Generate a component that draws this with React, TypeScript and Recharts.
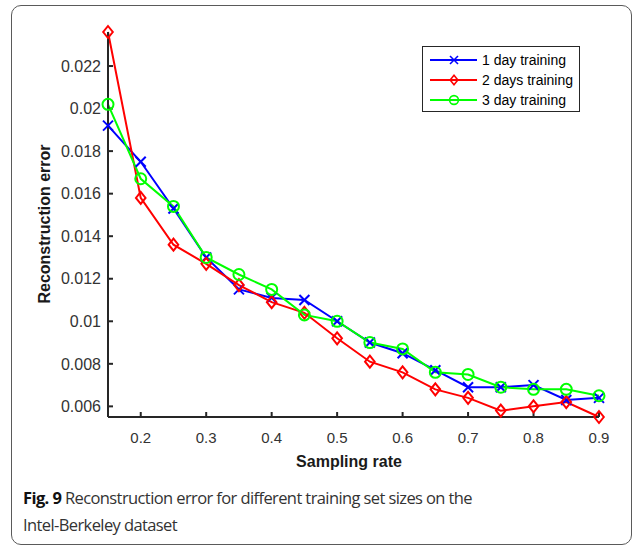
import React from "react"
import { LineChart, Line, XAxis, YAxis, Legend, Label } from "recharts"

// sampling rates on the x axis
const samplingRates = [0.15, 0.2, 0.25, 0.3, 0.35, 0.4, 0.45, 0.5, 0.55, 0.6, 0.65, 0.7, 0.75, 0.8, 0.85, 0.9]

// reconstruction error per training set size
const oneDay = [0.0192, 0.0175, 0.0153, 0.013, 0.0115, 0.0111, 0.011, 0.01, 0.009, 0.0085, 0.0077, 0.0069, 0.0069, 0.007, 0.0063, 0.0064]
const twoDays = [0.0236, 0.0158, 0.0136, 0.0127, 0.0117, 0.0109, 0.0104, 0.0092, 0.0081, 0.0076, 0.0068, 0.0064, 0.0058, 0.006, 0.0062, 0.0055]
const threeDays = [0.0202, 0.0167, 0.0154, 0.013, 0.0122, 0.0115, 0.0103, 0.01, 0.009, 0.0087, 0.0076, 0.0075, 0.0069, 0.0068, 0.0068, 0.0065]

const xTicks = [0.2, 0.3, 0.4, 0.5, 0.6, 0.7, 0.8, 0.9]
const yTicks = [0.006, 0.008, 0.01, 0.012, 0.014, 0.016, 0.018, 0.02, 0.022]

const seriesNames = ["1 day training", "2 days training", "3 day training"]

const data = samplingRates.map((rate, i) => ({
  rate,
  one: oneDay[i],
  two: twoDays[i],
  three: threeDays[i],
}))

const BLUE = "#0000ff"
const RED = "#ff0000"
const GREEN = "#00ff00"
const AXIS = "#262626"
const FONT = "'Liberation Sans', Arial, Helvetica, sans-serif"

type MarkerKind = "cross" | "diamond" | "circle"

function Marker({ kind, cx, cy, color }: { kind: MarkerKind; cx: number; cy: number; color: string }) {
  if (kind === "cross") {
    const s = 5
    return (
      <g stroke={color} strokeWidth={2} fill="none">
        <line x1={cx - s} y1={cy - s} x2={cx + s} y2={cy + s} />
        <line x1={cx - s} y1={cy + s} x2={cx + s} y2={cy - s} />
      </g>
    )
  }
  if (kind === "diamond") {
    const s = 6
    return (
      <path
        d={`M${cx},${cy - s}L${cx + s * 0.8},${cy}L${cx},${cy + s}L${cx - s * 0.8},${cy}Z`}
        stroke={color}
        strokeWidth={2}
        fill="none"
      />
    )
  }
  return <circle cx={cx} cy={cy} r={5.5} stroke={color} strokeWidth={2} fill="none" />
}

const dotFor = (kind: MarkerKind, color: string) => (props: any) => (
  <g key={`${kind}-${props.index}`}>
    <Marker kind={kind} cx={props.cx} cy={props.cy} color={color} />
  </g>
)

const legendRows: { kind: MarkerKind; color: string }[] = [
  { kind: "cross", color: BLUE },
  { kind: "diamond", color: RED },
  { kind: "circle", color: GREEN },
]

function LegendBox() {
  return (
    <svg width={158} height={66} style={{ display: "block", overflow: "visible" }}>
      <rect x={0.5} y={0.5} width={157} height={65} fill="#fff" stroke={AXIS} strokeWidth={1} />
      {legendRows.map((row, i) => {
        const y = 14 + i * 20
        return (
          <g key={i}>
            <line x1={8} y1={y} x2={55} y2={y} stroke={row.color} strokeWidth={2} />
            <g transform={`translate(32, ${y}) scale(0.8) translate(-32, ${-y})`}>
              <Marker kind={row.kind} cx={32} cy={y} color={row.color} />
            </g>
            <text x={60} y={y + 5} fontFamily={FONT} fontSize={14} fill="#000">
              {seriesNames[i]}
            </text>
          </g>
        )
      })}
    </svg>
  )
}

const fmt = (v: number) => String(Number(v.toFixed(3)))

export default function App() {
  return (
    <div style={{ position: "absolute", left: 0, top: 0, width: 636, height: 549, background: "#fff" }}>
      <div
        style={{
          position: "absolute",
          left: 11,
          top: 5,
          width: 621,
          height: 540,
          border: "1.3px solid #5a5a5a",
          borderRadius: 10,
          boxSizing: "border-box",
        }}
      />
      <div style={{ position: "absolute", left: 0, top: 0 }}>
        <LineChart
          width={636}
          height={549}
          data={data}
          margin={{ top: 32, right: 37, bottom: 112, left: 20 }}
        >
          <XAxis
            dataKey="rate"
            type="number"
            domain={[0.15, 0.9]}
            ticks={xTicks}
            tickFormatter={fmt}
            height={20}
            tickSize={-5}
            tickMargin={20}
            axisLine={{ stroke: AXIS, strokeWidth: 2 }}
            tickLine={{ stroke: AXIS, strokeWidth: 2 }}
            tick={{ fill: "#333", fontSize: 15, fontFamily: FONT }}
          >
            <Label
              content={() => (
                <text x={349} y={467} textAnchor="middle" fontFamily={FONT} fontSize={16} fontWeight="bold" fill="#1a1a1a">
                  Sampling rate
                </text>
              )}
            />
          </XAxis>
          <XAxis
            xAxisId="top"
            dataKey="rate"
            type="number"
            orientation="top"
            domain={[0.15, 0.9]}
            ticks={xTicks}
            height={0}
            tickSize={-5}
            tick={false}
            axisLine={{ stroke: AXIS, strokeWidth: 2 }}
            tickLine={{ stroke: AXIS, strokeWidth: 2 }}
          />
          <YAxis
            type="number"
            domain={[0.0055, 0.0236]}
            ticks={yTicks}
            tickFormatter={fmt}
            width={88}
            tickSize={-5}
            tickMargin={12}
            axisLine={{ stroke: AXIS, strokeWidth: 2 }}
            tickLine={{ stroke: AXIS, strokeWidth: 2 }}
            tick={{ fill: "#333", fontSize: 16, fontFamily: FONT }}
          >
            <Label
              content={() => (
                <text
                  x={50}
                  y={224}
                  transform="rotate(-90 50 224)"
                  textAnchor="middle"
                  fontFamily={FONT}
                  fontSize={16}
                  fontWeight="bold"
                  fill="#1a1a1a"
                >
                  Reconstruction error
                </text>
              )}
            />
          </YAxis>
          <YAxis
            yAxisId="right"
            type="number"
            orientation="right"
            domain={[0.0055, 0.0236]}
            ticks={yTicks}
            width={0}
            tickSize={-5}
            tick={false}
            axisLine={{ stroke: AXIS, strokeWidth: 2 }}
            tickLine={{ stroke: AXIS, strokeWidth: 2 }}
          />
          <Line dataKey="one" name={seriesNames[0]} stroke={BLUE} strokeWidth={2} dot={dotFor("cross", BLUE)} isAnimationActive={false} />
          <Line dataKey="two" name={seriesNames[1]} stroke={RED} strokeWidth={2} dot={dotFor("diamond", RED)} isAnimationActive={false} />
          <Line dataKey="three" name={seriesNames[2]} stroke={GREEN} strokeWidth={2} dot={dotFor("circle", GREEN)} isAnimationActive={false} />
          <Legend
            layout="vertical"
            align="center"
            verticalAlign="middle"
            content={() => <LegendBox />}
            wrapperStyle={{ left: 422, top: 46, width: 158, height: 66 }}
          />
        </LineChart>
      </div>
      <div
        style={{
          position: "absolute",
          left: 23,
          top: 484,
          width: 600,
          fontFamily: "'Open Sans', sans-serif",
          fontSize: 16.5,
          lineHeight: "27px",
          color: "#333",
          letterSpacing: -0.6,
        }}
      >
        <b style={{ color: "#111" }}>Fig. 9</b> Reconstruction error for different training set sizes on the
        <br />
        Intel-Berkeley dataset
      </div>
    </div>
  )
}
